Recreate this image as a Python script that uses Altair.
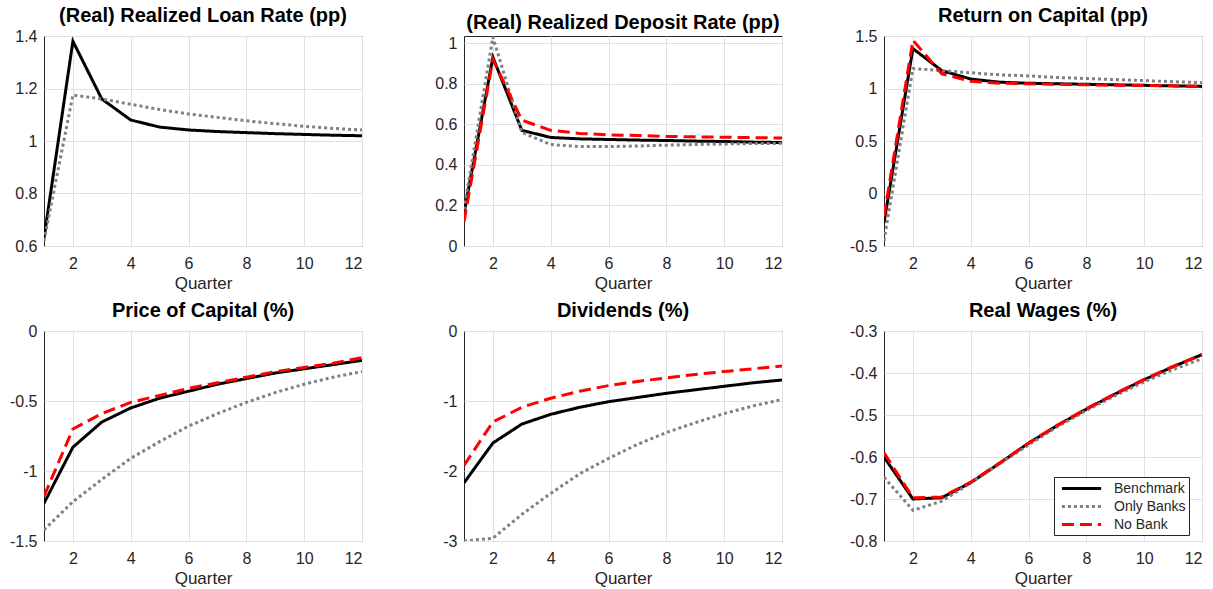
import altair as alt
import pandas as pd

quarters = list(range(1, 13))
series_names = ["Benchmark", "Only Banks", "No Bank"]
series_colors = ["#000000", "#808080", "#ff0000"]
series_dash = [[1, 0], [3, 3], [12, 6]]

# (Real) Realized Loan Rate (pp)
loan_bench = [0.63, 1.38, 1.16, 1.08, 1.053, 1.042, 1.036, 1.032, 1.028, 1.025, 1.022, 1.02]
loan_only = [0.62, 1.175, 1.16, 1.14, 1.12, 1.103, 1.09, 1.077, 1.066, 1.056, 1.048, 1.042]

# (Real) Realized Deposit Rate (pp)
dep_bench = [0.16, 0.93, 0.57, 0.535, 0.528, 0.525, 0.522, 0.52, 0.517, 0.515, 0.512, 0.51]
dep_only = [0.18, 1.03, 0.56, 0.50, 0.49, 0.49, 0.493, 0.497, 0.50, 0.503, 0.505, 0.506]
dep_nobank = [0.12, 0.92, 0.62, 0.57, 0.555, 0.548, 0.545, 0.54, 0.538, 0.536, 0.534, 0.532]

# Return on Capital (pp)
roc_bench = [-0.28, 1.38, 1.17, 1.09, 1.06, 1.05, 1.045, 1.04, 1.035, 1.03, 1.025, 1.02]
roc_only = [-0.45, 1.19, 1.17, 1.15, 1.13, 1.12, 1.105, 1.095, 1.085, 1.075, 1.065, 1.055]
roc_nobank = [-0.22, 1.46, 1.14, 1.07, 1.05, 1.045, 1.04, 1.035, 1.032, 1.03, 1.025, 1.02]

# Price of Capital (%)
pk_bench = [-1.23, -0.83, -0.65, -0.55, -0.48, -0.43, -0.38, -0.34, -0.30, -0.27, -0.24, -0.21]
pk_only = [-1.42, -1.22, -1.06, -0.91, -0.79, -0.68, -0.59, -0.51, -0.44, -0.38, -0.33, -0.29]
pk_nobank = [-1.18, -0.70, -0.59, -0.51, -0.46, -0.41, -0.37, -0.33, -0.29, -0.26, -0.23, -0.19]

# Dividends (%)
div_bench = [-2.17, -1.60, -1.33, -1.19, -1.09, -1.01, -0.95, -0.89, -0.84, -0.79, -0.74, -0.70]
div_only = [-3.0, -2.96, -2.62, -2.32, -2.04, -1.82, -1.62, -1.45, -1.31, -1.18, -1.07, -0.98]
div_nobank = [-1.92, -1.30, -1.09, -0.96, -0.86, -0.78, -0.72, -0.67, -0.62, -0.58, -0.54, -0.50]

# Real Wages (%)
wage_bench = [-0.60, -0.70, -0.697, -0.661, -0.615, -0.567, -0.525, -0.486, -0.45, -0.416, -0.385, -0.356]
wage_only = [-0.648, -0.727, -0.705, -0.662, -0.616, -0.571, -0.528, -0.489, -0.454, -0.421, -0.392, -0.366]
wage_nobank = [-0.59, -0.697, -0.695, -0.66, -0.614, -0.567, -0.524, -0.485, -0.449, -0.415, -0.384, -0.357]

FONT = "Liberation Sans"
PW, PH = 318, 210


def panel(title, series, ydomain, yticks, show_legend=False):
    rows = []
    for name, vals in series.items():
        for q, v in zip(quarters, vals):
            rows.append({"quarter": q, "value": v, "series": name})
    df = pd.DataFrame(rows)
    if show_legend:
        leg = alt.Legend(
            orient="none", legendX=170, legendY=146, title=None,
            strokeColor="#262626", fillColor="white", padding=3,
            symbolType="M-2.8,0L2.8,0", symbolSize=196, symbolStrokeWidth=3,
            symbolOffset=16, labelOffset=24,
            labelFontSize=14, labelFont=FONT, labelColor="#262626",
            rowPadding=2,
        )
    else:
        leg = None
    x = alt.X("quarter:Q",
              scale=alt.Scale(domain=[1, 12], nice=False, zero=False),
              axis=alt.Axis(values=[2, 4, 6, 8, 10, 12], title="Quarter",
                            labelPadding=9, titlePadding=4))
    y = alt.Y("value:Q",
              scale=alt.Scale(domain=ydomain, nice=False, zero=False),
              axis=alt.Axis(values=yticks, title=None,
                            labelExpr="toString(datum.value)", labelPadding=7))
    color = alt.Color("series:N",
                      scale=alt.Scale(domain=series_names, range=series_colors),
                      legend=leg)
    dash = alt.StrokeDash("series:N",
                          scale=alt.Scale(domain=series_names, range=series_dash),
                          legend=leg)
    layers = []
    for name in series_names:
        if name not in series:
            continue
        layers.append(
            alt.Chart(df).transform_filter(alt.datum.series == name)
            .mark_line(strokeWidth=3, clip=True, strokeCap="butt")
            .encode(x=x, y=y, color=color, strokeDash=dash)
        )
    return alt.layer(*layers).properties(
        width=PW, height=PH,
        title=alt.TitleParams(title, fontSize=20, fontWeight="bold", font=FONT,
                              color="#000000", offset=2),
    )


p1 = panel("(Real) Realized Loan Rate (pp)",
           {"Benchmark": loan_bench, "Only Banks": loan_only},
           [0.6, 1.4], [0.6, 0.8, 1.0, 1.2, 1.4])
p2 = panel("(Real) Realized Deposit Rate (pp)",
           {"Benchmark": dep_bench, "Only Banks": dep_only, "No Bank": dep_nobank},
           [0, 1.035], [0, 0.2, 0.4, 0.6, 0.8, 1])
p3 = panel("Return on Capital (pp)",
           {"Benchmark": roc_bench, "Only Banks": roc_only, "No Bank": roc_nobank},
           [-0.5, 1.5], [-0.5, 0, 0.5, 1, 1.5])
p4 = panel("Price of Capital (%)",
           {"Benchmark": pk_bench, "Only Banks": pk_only, "No Bank": pk_nobank},
           [-1.5, 0], [-1.5, -1, -0.5, 0])
p5 = panel("Dividends (%)",
           {"Benchmark": div_bench, "Only Banks": div_only, "No Bank": div_nobank},
           [-3, 0], [-3, -2, -1, 0])
p6 = panel("Real Wages (%)",
           {"Benchmark": wage_bench, "Only Banks": wage_only, "No Bank": wage_nobank},
           [-0.8, -0.3], [-0.8, -0.7, -0.6, -0.5, -0.4, -0.3], show_legend=True)

chart = alt.concat(
    p1, p2, p3, p4, p5, p6, columns=3,
    spacing={"row": 85, "column": 102}, bounds="flush",
).resolve_scale(
    color="independent", strokeDash="independent"
).resolve_legend(
    color="independent", strokeDash="independent"
).properties(
    padding={"left": 8, "top": 5, "right": 5, "bottom": 0}
).configure_view(
    stroke="#262626", strokeWidth=1
).configure_axis(
    grid=True, gridColor="#e0e0e0", gridWidth=1, domain=False, ticks=False,
    labelFont=FONT, labelFontSize=16, labelColor="#262626",
    titleFont=FONT, titleFontSize=17, titleFontWeight="normal", titleColor="#262626",
)

chart.save("out.html", embed_options={"renderer": "svg", "actions": False})
